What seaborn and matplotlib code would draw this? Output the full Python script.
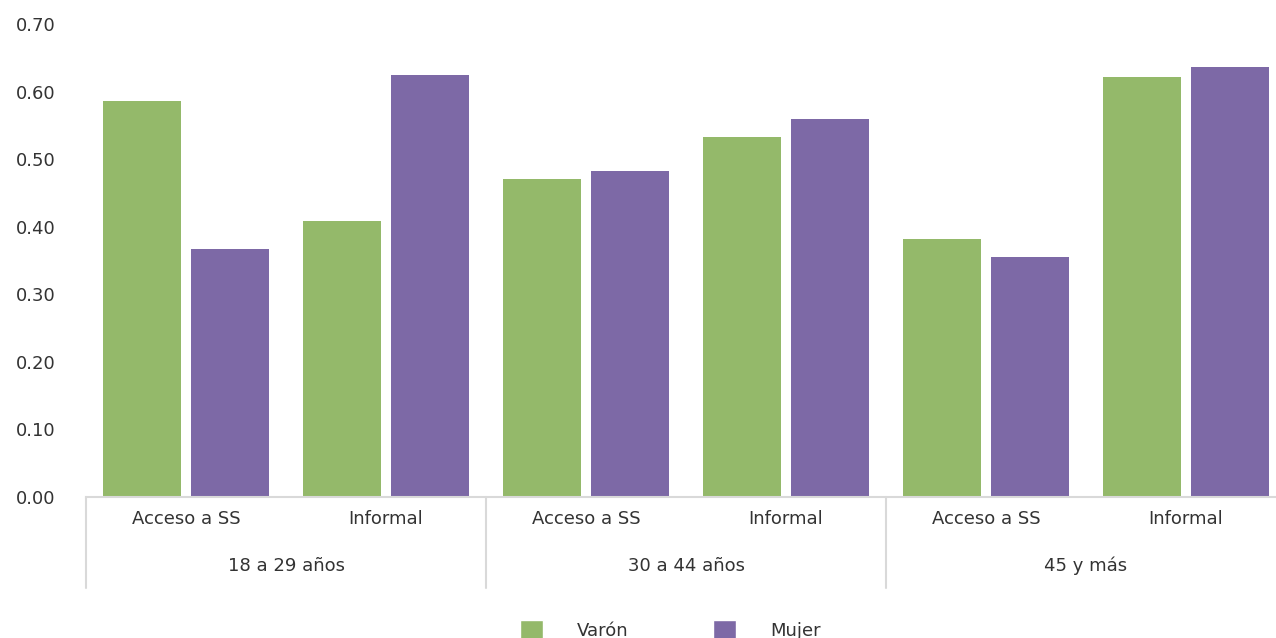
import matplotlib
matplotlib.use("Agg")
import matplotlib.pyplot as plt
import seaborn as sns
import pandas as pd
from matplotlib.patches import Patch
from matplotlib.transforms import blended_transform_factory

groups = ["18 a 29 años", "30 a 44 años", "45 y más"]
categories = ["Acceso a SS", "Informal"]
series = ["Varón", "Mujer"]
varon = [0.586, 0.409, 0.470, 0.533, 0.382, 0.621]
mujer = [0.367, 0.624, 0.482, 0.559, 0.355, 0.636]
yticks = [0.0, 0.1, 0.2, 0.3, 0.4, 0.5, 0.6, 0.7]

colors = {"Varón": "#94B96A", "Mujer": "#7D69A6"}

rows = []
keys = []
for gi, g in enumerate(groups):
    for ci, c in enumerate(categories):
        k = f"{g}|{c}"
        keys.append(k)
        idx = gi * 2 + ci
        rows.append({"key": k, "sexo": "Varón", "valor": varon[idx]})
        rows.append({"key": k, "sexo": "Mujer", "valor": mujer[idx]})
df = pd.DataFrame(rows)

sns.set_theme(style="white")
plt.rcParams["font.family"] = ["DejaVu Sans"]

FS = 13.0
TXT = "#333333"

fig = plt.figure(figsize=(12.76, 6.38), dpi=100)
W, H = 1276, 638
x0, x1 = 86, 1286
ytop, ybot = 24, 497
ax = fig.add_axes([x0 / W, 1 - ybot / H, (x1 - x0) / W, (ybot - ytop) / H])

sns.barplot(data=df, x="key", y="valor", hue="sexo", order=keys,
            hue_order=series, palette=colors, width=0.88, gap=0.11,
            ax=ax, legend=False, linewidth=0, saturation=1)

ax.set_xlim(-0.5, len(keys) - 0.5)
ax.set_ylim(0, 0.7)
ax.set_yticks(yticks)
ax.set_yticklabels([f"{v:.2f}" for v in yticks], fontsize=FS, color=TXT)
ax.tick_params(axis="y", length=0, pad=22)
ax.set_xticks(range(len(keys)))
ax.set_xticklabels([k.split("|")[1] for k in keys], fontsize=FS, color=TXT)
ax.tick_params(axis="x", length=0, pad=9)
ax.set_xlabel("")
ax.set_ylabel("")
for s in ["top", "right", "left"]:
    ax.spines[s].set_visible(False)
ax.spines["bottom"].set_color("#d9d9d9")
ax.spines["bottom"].set_linewidth(1.5)
ax.grid(False)

trans = blended_transform_factory(ax.transData, ax.transAxes)
sep_bottom = -(588 - ybot) / (ybot - ytop)
label_y = -(566 - ybot) / (ybot - ytop)
for gi, g in enumerate(groups):
    xs = gi * 2 - 0.5
    ax.plot([xs, xs], [0, sep_bottom], transform=trans, color="#d9d9d9",
            lw=1.5, clip_on=False)
    ax.text(gi * 2 + 0.5, label_y, g, transform=trans, ha="center",
            va="center", fontsize=FS, color=TXT)

handles = [Patch(facecolor=colors[s], label=s) for s in series]
leg = fig.legend(handles=handles, loc="center", bbox_to_anchor=(670 / W, 1 - 630 / H),
                 ncol=2, frameon=False, fontsize=FS, handlelength=1.3,
                 handleheight=1.4, handletextpad=1.85, columnspacing=4.7,
                 borderpad=0)
for t in leg.get_texts():
    t.set_color(TXT)

fig.savefig("out.png", dpi=100)
